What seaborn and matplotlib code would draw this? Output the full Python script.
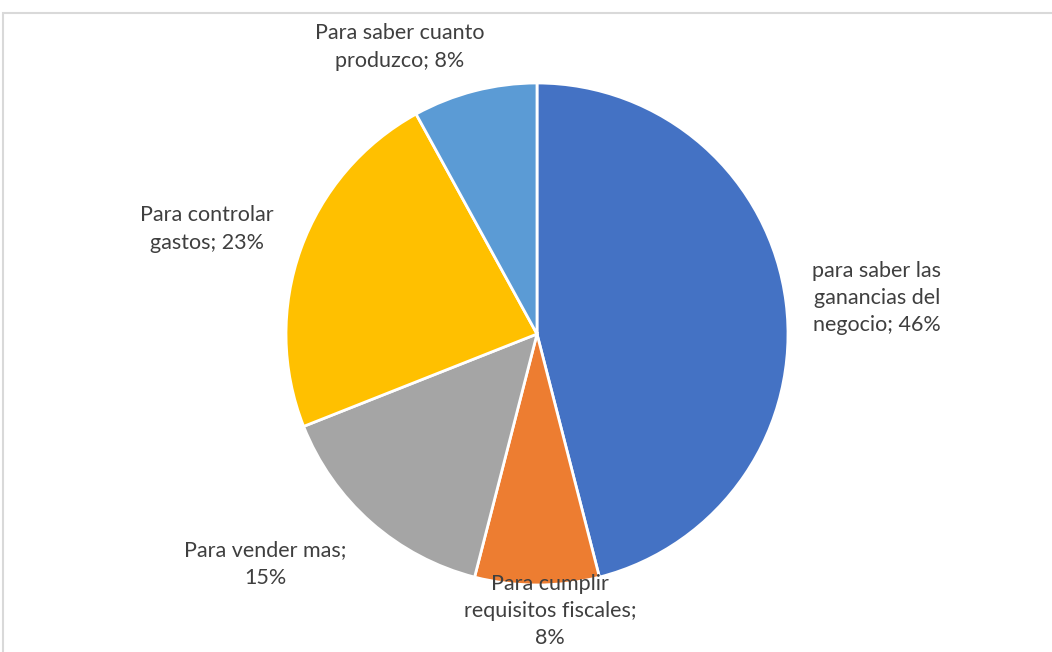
import matplotlib
matplotlib.use("Agg")
import matplotlib.pyplot as plt
import seaborn as sns
from matplotlib.patches import Rectangle

categories = [
    "para saber las ganancias del negocio",
    "Para cumplir requisitos fiscales",
    "Para vender mas",
    "Para controlar gastos",
    "Para saber cuanto produzco",
]
values = [46, 8, 15, 23, 8]
label_texts = [
    "para saber las\nganancias del\nnegocio; 46%",
    "Para cumplir\nrequisitos fiscales;\n8%",
    "Para vender mas;\n15%",
    "Para controlar\ngastos; 23%",
    "Para saber cuanto\nproduzco; 8%",
]
colors = ["#4472C4", "#ED7D31", "#A5A5A5", "#FFC000", "#5B9BD5"]

# layout (pixel coordinates, y measured from bottom)
W, H = 1052, 652
label_pos = [(877, 652 - 298), (550, 652 - 611), (265, 652 - 564), (207, 652 - 229), (400, 652 - 47)]

sns.set_theme(style="white")
plt.rcParams["font.family"] = ["Lato", "DejaVu Sans"]

fig = plt.figure(figsize=(W / 100, H / 100), dpi=100)
ax = fig.add_axes([0, 0, 1, 1])
ax.pie(values, colors=sns.color_palette(colors), startangle=90, counterclock=False,
       center=(537, 652 - 334), radius=251,
       wedgeprops=dict(edgecolor="white", linewidth=2))
ax.set_xlim(0, W)
ax.set_ylim(0, H)
ax.set_aspect("equal")
ax.axis("off")

for txt, (x, y) in zip(label_texts, label_pos):
    ax.text(x, y, txt, ha="center", va="center", fontsize=15.5, color="#3F3F3F",
            linespacing=1.45)

fig.patches.append(Rectangle((3 / W, -0.1), 1.2, (H - 13) / H + 0.1, transform=fig.transFigure,
                             fill=False, edgecolor="#D9D9D9", linewidth=1.5))

fig.savefig("out.png", dpi=100, facecolor="white")
